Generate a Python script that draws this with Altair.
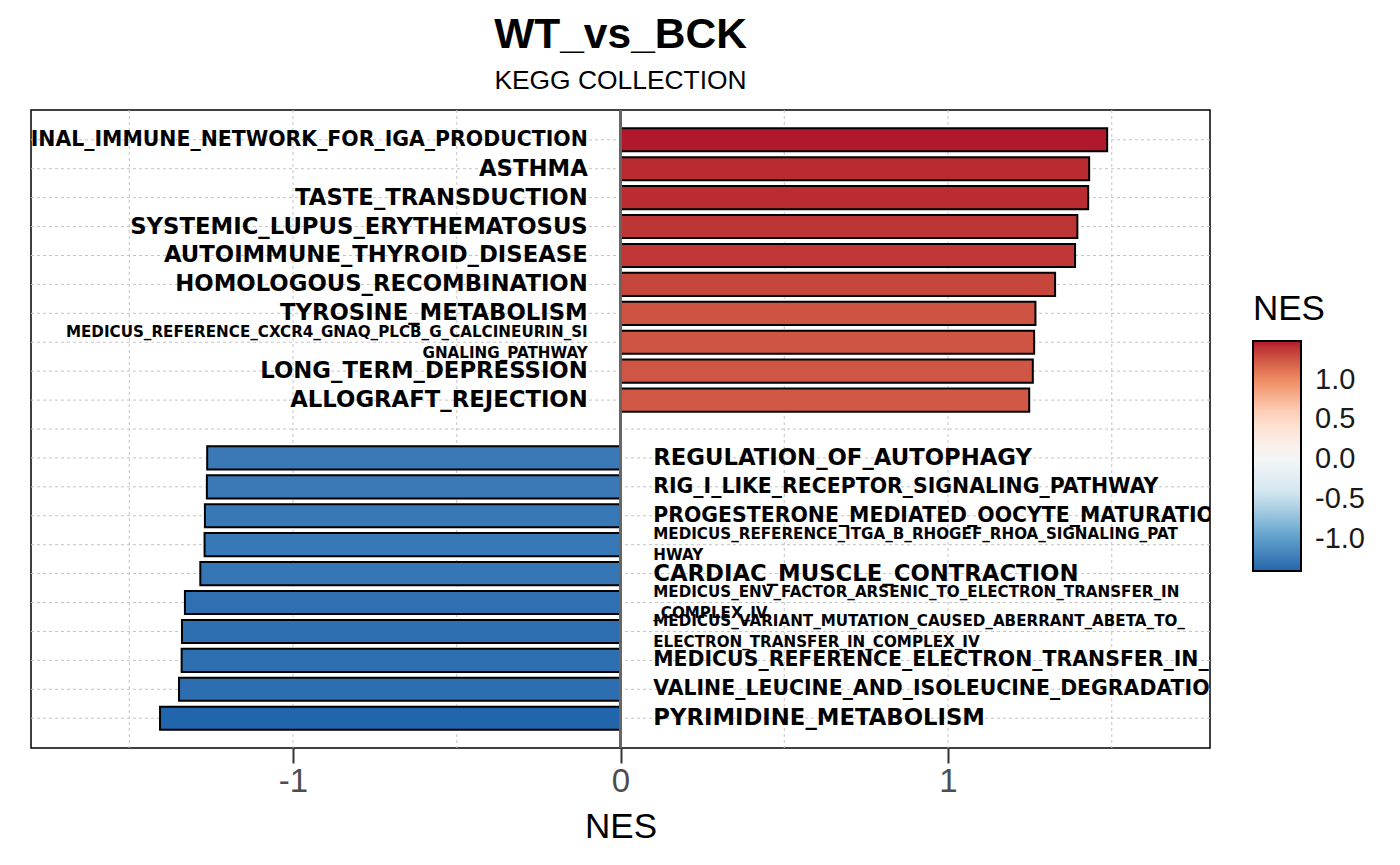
import altair as alt
import pandas as pd
import numpy as np

# ---- data ----
pos_terms = [
    "INTESTINAL_IMMUNE_NETWORK_FOR_IGA_PRODUCTION",
    "ASTHMA",
    "TASTE_TRANSDUCTION",
    "SYSTEMIC_LUPUS_ERYTHEMATOSUS",
    "AUTOIMMUNE_THYROID_DISEASE",
    "HOMOLOGOUS_RECOMBINATION",
    "TYROSINE_METABOLISM",
    "MEDICUS_REFERENCE_CXCR4_GNAQ_PLCB_G_CALCINEURIN_SIGNALING_PATHWAY",
    "LONG_TERM_DEPRESSION",
    "ALLOGRAFT_REJECTION",
]
pos_nes = [1.486, 1.431, 1.428, 1.395, 1.388, 1.327, 1.267, 1.263, 1.259, 1.248]

neg_terms = [
    "REGULATION_OF_AUTOPHAGY",
    "RIG_I_LIKE_RECEPTOR_SIGNALING_PATHWAY",
    "PROGESTERONE_MEDIATED_OOCYTE_MATURATION",
    "MEDICUS_REFERENCE_ITGA_B_RHOGEF_RHOA_SIGNALING_PATHWAY",
    "CARDIAC_MUSCLE_CONTRACTION",
    "MEDICUS_ENV_FACTOR_ARSENIC_TO_ELECTRON_TRANSFER_IN_COMPLEX_IV",
    "MEDICUS_VARIANT_MUTATION_CAUSED_ABERRANT_ABETA_TO_ELECTRON_TRANSFER_IN_COMPLEX_IV",
    "MEDICUS_REFERENCE_ELECTRON_TRANSFER_IN_COMPLEX_IV",
    "VALINE_LEUCINE_AND_ISOLEUCINE_DEGRADATION",
    "PYRIMIDINE_METABOLISM",
]
neg_nes = [-1.262, -1.263, -1.269, -1.270, -1.283, -1.330, -1.339, -1.340, -1.348, -1.406]

gap_row = " "
x_minor_grid = [-1.5, -1.0, -0.5, 0.5, 1.0, 1.5]
x_tick_values = [-1, 0, 1]
legend_values = [-1.0, -0.5, 0.0, 0.5, 1.0]
rdbu7 = ["#2166AC", "#67A9CF", "#D1E5F0", "#F7F7F7", "#FDDBC7", "#EF8A62", "#B2182B"]
WRAP = 50


def wrap(s, n=WRAP):
    return "\n".join(s[i:i + n] for i in range(0, len(s), n))


terms = pos_terms + neg_terms
nes = pos_nes + neg_nes
df = pd.DataFrame({
    "term": terms,
    "NES": nes,
    "label": [wrap(t) for t in terms],
    "nchar": [len(t) for t in terms],
})
row_order = pos_terms + [gap_row] + neg_terms
grid_rows = pd.DataFrame({"term": row_order})
grid_cols = pd.DataFrame({"NES": x_minor_grid})

lo, hi = min(nes), max(nes)
color_domain = [float(v) for v in np.linspace(lo, hi, len(rdbu7))]

xscale = alt.Scale(domain=[-1.8, 1.8], nice=False, zero=False)
yscale = alt.Scale(domain=row_order, paddingInner=0.2, paddingOuter=0.63)
Y = alt.Y("term:N", scale=yscale, axis=None, sort=None)
x_axis = alt.Axis(
    values=x_tick_values,
    grid=False,
    domain=False,
    format="d",
    labelExpr="replace(datum.label, '\u2212', '-')",
)
X = alt.X("NES:Q", scale=xscale, title="NES", axis=x_axis)

grid_style = dict(color="#C4C4C4", strokeDash=[3, 3], strokeWidth=1)

hgrid = alt.Chart(grid_rows).mark_rule(**grid_style).encode(y=Y)
vgrid = alt.Chart(grid_cols).mark_rule(**grid_style).encode(x=X)

bars = alt.Chart(df).mark_bar(stroke="black", strokeWidth=2).encode(
    x=X,
    x2=alt.datum(0),
    y=Y,
    color=alt.Color(
        "NES:Q",
        scale=alt.Scale(domain=color_domain, range=rdbu7, interpolate="lab"),
        legend=alt.Legend(
            title="NES",
            orient="none",
            legendX=1222,
            legendY=182,
            direction="vertical",
            gradientLength=230,
            gradientThickness=48,
            gradientStrokeColor="black",
            gradientStrokeWidth=2,
            values=legend_values,
            format=".1f",
            labelExpr="replace(datum.label, '\u2212', '-')",
            labelFont="Liberation Sans",
            labelFontSize=29,
            labelColor="#1A1A1A",
            labelOffset=14,
            labelOverlap=False,
            titleFont="Liberation Sans",
            titleFontSize=35,
            titleFontWeight="normal",
            titleColor="black",
            titlePadding=14,
        ),
    ),
)

zero_line = alt.Chart(df).mark_rule(color="#666666", strokeWidth=2).encode(
    x=alt.datum(0)
)

text_style = dict(
    baseline="middle",
    font="DejaVu Sans",
    fontWeight="bold",
    color="black",
    lineBreak="\n",
    lineHeight=21,
    clip=True,
)
size_expr = "datum.nchar > 50 ? 15.15 : (datum.nchar > 30 ? 20.45 : 22.75)"


def labels(filter_expr, align, xpos, wrapped):
    f = f"({filter_expr}) && (datum.nchar {'>' if wrapped else '<='} {WRAP})"
    return (
        alt.Chart(df)
        .transform_filter(f)
        .transform_calculate(fs=size_expr)
        .mark_text(align=align, dy=-10.5 if wrapped else 0, **text_style)
        .encode(
            x=alt.datum(xpos),
            y=Y,
            text="label:N",
            size=alt.Size("fs:Q", scale=None, legend=None),
        )
    )


pos_big = labels("datum.NES > 0", "right", -0.1, False)
pos_small = labels("datum.NES > 0", "right", -0.1, True)
neg_big = labels("datum.NES < 0", "left", 0.1, False)
neg_small = labels("datum.NES < 0", "left", 0.1, True)

chart = (
    alt.layer(hgrid, vgrid, bars, zero_line, pos_big, pos_small, neg_big, neg_small)
    .properties(
        width=1179,
        height=638,
        title=alt.Title(
            "WT_vs_BCK",
            subtitle="KEGG COLLECTION",
            anchor="middle",
            font="Liberation Sans",
            fontSize=42.5,
            fontWeight="bold",
            color="black",
            subtitleFont="Liberation Sans",
            subtitleFontSize=26.4,
            subtitleColor="black",
            subtitlePadding=11,
            offset=15,
        ),
        autosize=alt.AutoSizeParams(type="none"),
        padding={"left": 23, "top": 102, "right": 182, "bottom": 107},
    )
    .configure_view(stroke="black", strokeWidth=1.5)
    .configure_axisX(
        labelFont="Liberation Sans",
        labelFontSize=33,
        labelColor="#4D4D4D",
        labelPadding=2,
        tickColor="#333333",
        tickWidth=2,
        tickSize=15,
        titleFont="Liberation Sans",
        titleFontSize=35,
        titleFontWeight="normal",
        titleColor="black",
        titlePadding=11,
    )
)

chart.save("out.html", embed_options={"renderer": "svg", "actions": False})
